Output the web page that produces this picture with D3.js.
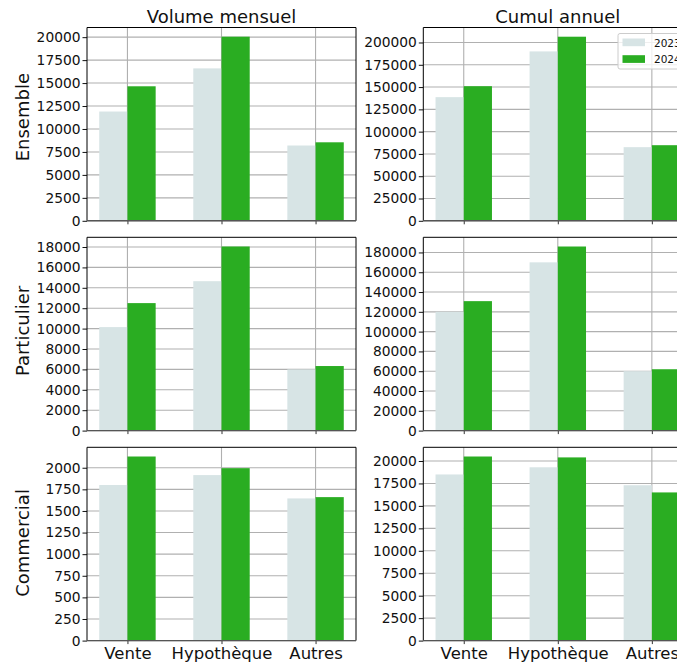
<!DOCTYPE html>
<html>
<head>
<meta charset="utf-8">
<script src="https://cdn.jsdelivr.net/npm/d3@7"></script>
<style>
    body { margin: 0; background: #fff; }
    svg { display: block; overflow: hidden; }
</style>
</head>
<body>
<svg id="chart"></svg>
<script>
// Categories, series and labels
const categories = ["Vente", "Hypothèque", "Autres"];
const years = ["2023", "2024"];
const rowLabels = ["Ensemble", "Particulier", "Commercial"];
const columnTitles = ["Volume mensuel", "Cumul annuel"];

// Monthly volume
const ensembleMensuel2023 = [11900, 16600, 8200];
const ensembleMensuel2024 = [14650, 20050, 8550];
const particulierMensuel2023 = [10150, 14650, 6000];
const particulierMensuel2024 = [12500, 18050, 6330];
const commercialMensuel2023 = [1800, 1915, 1645];
const commercialMensuel2024 = [2130, 1995, 1660];

// Year to date
const ensembleCumul2023 = [138700, 190000, 82600];
const ensembleCumul2024 = [151000, 206500, 84800];
const particulierCumul2023 = [120000, 170000, 60000];
const particulierCumul2024 = [130800, 186000, 62000];
const commercialCumul2023 = [18500, 19300, 17300];
const commercialCumul2024 = [20500, 20400, 16500];

// Tick labels of each y axis
const ticksEnsembleMensuel = [0, 2500, 5000, 7500, 10000, 12500, 15000, 17500, 20000];
const ticksParticulierMensuel = [0, 2000, 4000, 6000, 8000, 10000, 12000, 14000, 16000, 18000];
const ticksCommercialMensuel = [0, 250, 500, 750, 1000, 1250, 1500, 1750, 2000];
const ticksEnsembleCumul = [0, 25000, 50000, 75000, 100000, 125000, 150000, 175000, 200000];
const ticksParticulierCumul = [0, 20000, 40000, 60000, 80000, 100000, 120000, 140000, 160000, 180000];
const ticksCommercialCumul = [0, 2500, 5000, 7500, 10000, 12500, 15000, 17500, 20000];

const colors = ["#d7e4e5", "#2aad22"];
const font = "DejaVu Sans, sans-serif";

// panel grid: [row][col]
const panels = [
    [
        { a: ensembleMensuel2023, b: ensembleMensuel2024, ticks: ticksEnsembleMensuel },
        { a: ensembleCumul2023, b: ensembleCumul2024, ticks: ticksEnsembleCumul }
    ],
    [
        { a: particulierMensuel2023, b: particulierMensuel2024, ticks: ticksParticulierMensuel },
        { a: particulierCumul2023, b: particulierCumul2024, ticks: ticksParticulierCumul }
    ],
    [
        { a: commercialMensuel2023, b: commercialMensuel2024, ticks: ticksCommercialMensuel },
        { a: commercialCumul2023, b: commercialCumul2024, ticks: ticksCommercialCumul }
    ]
];

const W = 677, H = 664;
const colX = [87, 423.3];
const rowY = [27.5, 237.3, 447.3];
const labelShift = [-7, -3, -1]; // row labels sit slightly above panel centre
const pw = 269, ph = 193.3;
const barW = 0.3;

const svg = d3.select("#chart")
    .attr("width", W)
    .attr("height", H)
    .style("font-family", font);

function drawPanel(r, c) {
    const p = panels[r][c];
    const g = svg.append("g")
        .attr("transform", `translate(${colX[c]},${rowY[r]})`);

    // matplotlib-like margins on x, 5% headroom on y
    const x = d3.scaleLinear().domain([-0.43, 2.43]).range([0, pw]);
    const ymax = d3.max(p.a.concat(p.b)) * 1.05;
    const y = d3.scaleLinear().domain([0, ymax]).range([ph, 0]);

    // grid lines
    g.append("g").selectAll("line.h")
        .data(p.ticks)
        .join("line")
        .attr("x1", 0).attr("x2", pw)
        .attr("y1", d => y(d)).attr("y2", d => y(d))
        .attr("stroke", "#b0b0b0").attr("stroke-width", 1.1);
    g.append("g").selectAll("line.v")
        .data(categories)
        .join("line")
        .attr("x1", (d, i) => x(i)).attr("x2", (d, i) => x(i))
        .attr("y1", 0).attr("y2", ph)
        .attr("stroke", "#b0b0b0").attr("stroke-width", 1.1);

    // bars
    [p.a, p.b].forEach((vals, k) => {
        g.append("g").selectAll("rect")
            .data(vals)
            .join("rect")
            .attr("x", (d, i) => x(i + (k - 1) * barW))
            .attr("width", x(barW) - x(0))
            .attr("y", d => y(d))
            .attr("height", d => ph - y(d))
            .attr("fill", colors[k]);
    });

    // y axis
    const ya = g.append("g")
        .call(d3.axisLeft(y).tickValues(p.ticks).tickSize(4.5).tickPadding(2).tickFormat(d3.format("d")));
    ya.select(".domain").remove();
    ya.selectAll("text").attr("font-size", 13.8).attr("font-family", font).attr("fill", "#111");
    ya.selectAll("line").attr("stroke", "#111");

    // x axis
    const xa = g.append("g")
        .attr("transform", `translate(0,${ph})`)
        .call(d3.axisBottom(x).tickValues([0, 1, 2]).tickSize(3.5).tickPadding(3)
            .tickFormat(i => r === 2 ? categories[i] : ""));
    xa.select(".domain").remove();
    xa.selectAll("text").attr("font-size", 16.5).attr("font-family", font).attr("fill", "#111");
    xa.selectAll("line").attr("stroke", "#333");

    // spines
    g.append("path")
        .attr("d", `M0,${ph}V0H${pw}V${ph}`)
        .attr("fill", "none").attr("stroke", "#000").attr("stroke-width", 1);
    g.append("line")
        .attr("x1", 0).attr("x2", pw).attr("y1", ph).attr("y2", ph)
        .attr("stroke", "#555").attr("stroke-width", 1.4);

    // row label
    if (c === 0) {
        svg.append("text")
            .attr("transform", `translate(29,${rowY[r] + ph / 2 + labelShift[r]}) rotate(-90)`)
            .attr("text-anchor", "middle")
            .attr("font-size", 18)
            .attr("fill", "#111")
            .text(rowLabels[r]);
    }
    // column title
    if (r === 0) {
        svg.append("text")
            .attr("x", colX[c] + pw / 2)
            .attr("y", 23)
            .attr("text-anchor", "middle")
            .attr("font-size", 18)
            .attr("fill", "#111")
            .text(columnTitles[c]);
    }
}

function drawLegend() {
    const lg = svg.append("g").attr("transform", "translate(618,33.5)");
    lg.append("rect")
        .attr("width", 72).attr("height", 35.5)
        .attr("rx", 2)
        .attr("fill", "#fff").attr("fill-opacity", 0.8)
        .attr("stroke", "#cccccc").attr("stroke-width", 1);
    years.forEach((yr, k) => {
        lg.append("rect")
            .attr("x", 4.5).attr("y", 5 + k * 16.7)
            .attr("width", 22.5).attr("height", 7.7)
            .attr("fill", colors[k]);
        lg.append("text")
            .attr("x", 36).attr("y", 13 + k * 16.5)
            .attr("font-size", 10.5)
            .attr("fill", "#111")
            .text(yr);
    });
}

for (let r = 0; r < 3; r++) {
    for (let c = 0; c < 2; c++) {
        drawPanel(r, c);
    }
}
drawLegend();
</script>
</body>
</html>
